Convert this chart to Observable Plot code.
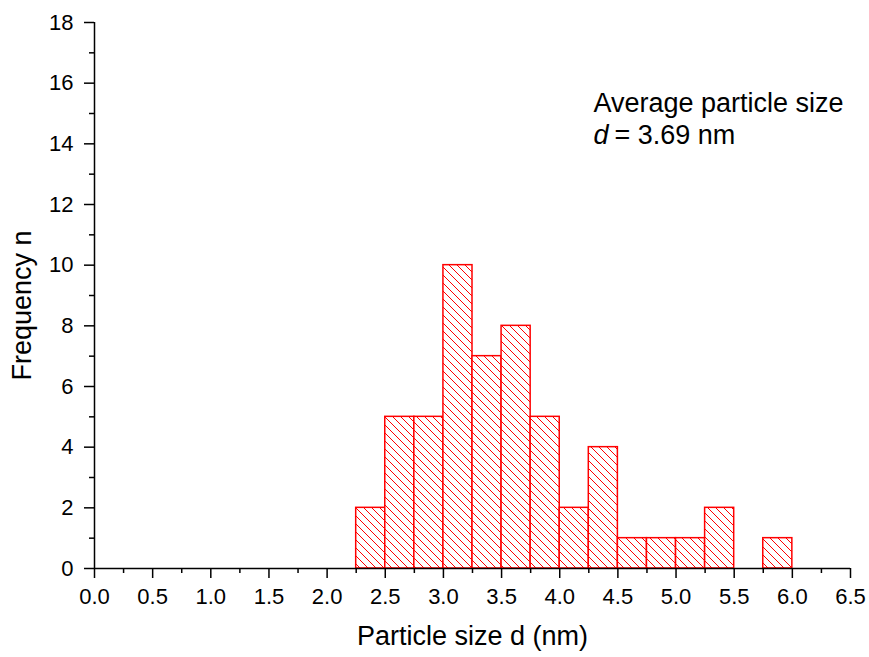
<!DOCTYPE html>
<html>
<head>
<meta charset="utf-8">
<script src="https://cdn.jsdelivr.net/npm/d3@7"></script>
<script src="https://cdn.jsdelivr.net/npm/@observablehq/plot@0.6"></script>
<style>
  html, body { margin: 0; padding: 0; background: white; }
</style>
</head>
<body>
<div id="chart"></div>
<script>
// Histogram bins (nm) and counts
const binStart = [2.25, 2.5, 2.75, 3.0, 3.25, 3.5, 3.75, 4.0, 4.25, 4.5, 4.75, 5.0, 5.25, 5.5, 5.75];
const binEnd   = [2.5, 2.75, 3.0, 3.25, 3.5, 3.75, 4.0, 4.25, 4.5, 4.75, 5.0, 5.25, 5.5, 5.75, 6.0];
const counts   = [2, 5, 5, 10, 7, 8, 5, 2, 4, 1, 1, 1, 2, 0, 1];

const xMajorTicks = [0, 0.5, 1, 1.5, 2, 2.5, 3, 3.5, 4, 4.5, 5, 5.5, 6, 6.5];
const xMinorTicks = [0.25, 0.75, 1.25, 1.75, 2.25, 2.75, 3.25, 3.75, 4.25, 4.75, 5.25, 5.75, 6.25];
const yMajorTicks = [0, 2, 4, 6, 8, 10, 12, 14, 16, 18];
const yMinorTicks = [1, 3, 5, 7, 9, 11, 13, 15, 17];

const xLabel = "Particle size d (nm)";
const yLabel = "Frequency n";
const noteLine1 = "Average particle size";
const noteVar = "d";
const noteValue = "= 3.69 nm";
const noteX = [4.29, 4.29];
const noteY = [15.05, 14.01];

const bins = binStart.map((s, i) => ({x1: s, x2: binEnd[i], n: counts[i]})).filter(d => d.n > 0);

const hatchDefs = () => {
  const defs = d3.create("svg:defs");
  const p = defs.append("pattern")
    .attr("id", "hatch")
    .attr("patternUnits", "userSpaceOnUse")
    .attr("width", 8).attr("height", 8);
  p.append("rect").attr("width", 8).attr("height", 8).attr("fill", "white");
  p.append("path")
    .attr("d", "M0,0L8,8M-1,7L1,9M7,-1L9,1")
    .attr("stroke", "red").attr("stroke-width", 1).attr("fill", "none");
  return defs.node();
};

const chart = Plot.plot({
  width: 869,
  height: 657,
  marginLeft: 94,
  marginRight: 19,
  marginTop: 22,
  marginBottom: 89,
  x: {domain: [0, 6.5]},
  y: {domain: [0, 18]},
  style: {fontFamily: "Liberation Sans, Arial, sans-serif", background: "white", color: "black"},
  marks: [
    hatchDefs,
    Plot.rectY(bins, {x1: "x1", x2: "x2", y: "n", fill: "url(#hatch)", stroke: "red", strokeWidth: 1.5}),
    Plot.axisX({ticks: xMajorTicks, tickSize: 10, tickFormat: () => "", label: null, strokeWidth: 1.5}),
    Plot.axisX({ticks: xMinorTicks, tickSize: 5, tickFormat: () => "", label: null, strokeWidth: 1.5}),
    Plot.axisY({ticks: yMajorTicks, tickSize: 10, tickFormat: () => "", label: null, strokeWidth: 1.5}),
    Plot.axisY({ticks: yMinorTicks, tickSize: 5, tickFormat: () => "", label: null, strokeWidth: 1.5}),
    Plot.text(xMajorTicks, {x: d => d, text: d => d.toFixed(1), frameAnchor: "bottom", lineAnchor: "top", dy: 20, fontSize: 22, fill: "black"}),
    Plot.text(yMajorTicks, {y: d => d, text: d => String(d), frameAnchor: "left", textAnchor: "end", dx: -21, fontSize: 22, fill: "black"}),
    Plot.ruleY([0], {stroke: "black", strokeWidth: 1.5}),
    Plot.ruleX([0], {stroke: "black", strokeWidth: 1.5}),
    Plot.text([xLabel], {frameAnchor: "bottom", dy: 76, fontSize: 27, fill: "black"}),
    Plot.text([yLabel], {frameAnchor: "left", textAnchor: "middle", dx: -72, dy: 10, rotate: -90, fontSize: 27, fill: "black"}),
    Plot.text([noteLine1], {x: noteX[0], y: noteY[0], textAnchor: "start", lineAnchor: "bottom", fontSize: 27, fill: "black"}),
    Plot.text([noteVar], {x: noteX[1], y: noteY[1], textAnchor: "start", lineAnchor: "bottom", fontSize: 27, fontStyle: "italic", fill: "black"}),
    Plot.text([noteValue], {x: noteX[1], y: noteY[1], dx: 21, textAnchor: "start", lineAnchor: "bottom", fontSize: 27, fill: "black"})
  ]
});
document.getElementById("chart").appendChild(chart);
</script>
</body>
</html>
